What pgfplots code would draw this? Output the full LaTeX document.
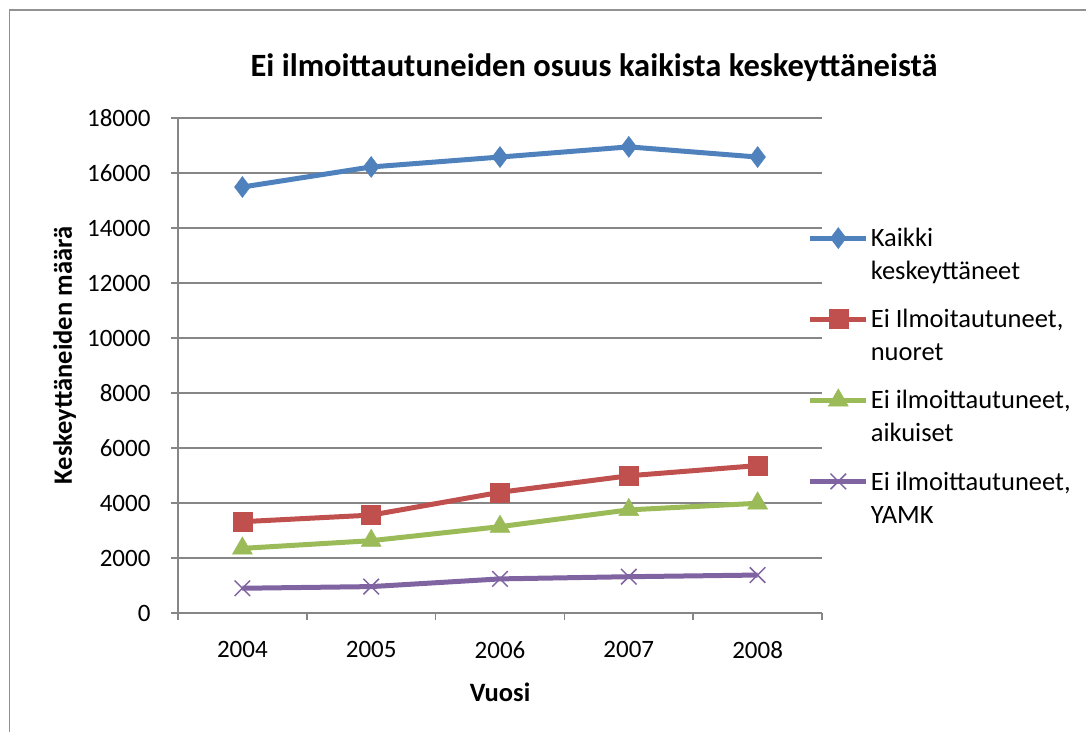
\documentclass[border=0pt]{standalone}
\usepackage{fontspec}
\setmainfont{Carlito}
\usepackage{pgfplots}
\pgfplotsset{compat=1.18}
\definecolor{cblue}{HTML}{4F81BD}
\definecolor{cred}{HTML}{C0504D}
\definecolor{cgreen}{HTML}{9BBB59}
\definecolor{cpurple}{HTML}{8064A2}
\definecolor{gridgray}{HTML}{868686}
\begin{document}
\begin{tikzpicture}
\useasboundingbox (0pt,0pt) rectangle (1086pt,731pt);
\draw[color=gridgray!90, line width=1.5pt] (9.5pt,-5pt) -- (9.5pt,721pt) -- (1095pt,721pt);
\node[font=\fontsize{32.5}{36}\selectfont\bfseries] at (594pt,663pt) {Ei ilmoittautuneiden osuus kaikista keskeyttäneistä};
\begin{axis}[
  at={(178pt,118pt)}, anchor=south west,
  width=644pt, height=495pt, scale only axis,
  xmin=-0.5, xmax=4.5, ymin=0, ymax=18000,
  ytick={0,2000,...,18000},
  ymajorgrids,
  grid style={color=gridgray, line width=1.5pt},
  axis x line*=bottom, axis y line*=left,
  axis line style={gridgray, line width=1.5pt, -},
  tick align=outside, major tick length=7pt,
  tick style={gridgray, line width=1.5pt},
  xtick={-0.5,0.5,1.5,2.5,3.5,4.5},
  xticklabels={},
  extra x ticks={0,1,2,3,4},
  extra x tick labels={2004,2005,2006,2007,2008},
  extra x tick style={major tick length=0pt, grid=none},
  xticklabel style={yshift=-25pt},
  yticklabel style={xshift=-17pt},
  ticklabel style={font=\fontsize{25}{29}\selectfont},
  /pgf/number format/assume math mode=true,
  /pgf/number format/1000 sep={},
  scaled y ticks=false,
  xlabel={Vuosi}, ylabel={Keskeyttäneiden määrä},
  label style={font=\fontsize{26.5}{30}\selectfont\bfseries},
  xlabel style={at={(axis description cs:0.5,-0.16)}, anchor=center},
  ylabel style={at={(axis description cs:-0.176,0.52)}, anchor=center},
  legend cell align=left,
  legend style={draw=none, fill=none, at={(axis description cs:0.973,0.786)}, anchor=north west,
    font=\fontsize{26.5}{33}\selectfont, nodes={align=left, inner sep=2pt}, row sep=24pt,
    cells={anchor=north west}},
  legend image code/.code={\draw[#1, mark repeat=2, mark phase=2] plot coordinates {(0pt,-12pt) (28pt,-12pt) (56pt,-12pt)};},
  clip=false,
]
\addplot[cblue, line width=5pt, mark=diamond*, mark size=10.5pt, mark options={solid, line width=0.5pt}]
  coordinates {(0,15490) (1,16220) (2,16580) (3,16950) (4,16580)};
\addlegendentry{Kaikki\\keskeyttäneet}
\addplot[cred, line width=5pt, mark=square*, mark size=9.5pt, mark options={solid, line width=0.5pt}]
  coordinates {(0,3320) (1,3560) (2,4390) (3,4990) (4,5360)};
\addlegendentry{Ei Ilmoitautuneet,\\nuoret}
\addplot[cgreen, line width=5pt, mark=triangle*, mark size=11.5pt, mark options={solid, line width=0.5pt}]
  coordinates {(0,2350) (1,2630) (2,3140) (3,3750) (4,3990)};
\addlegendentry{Ei ilmoittautuneet,\\aikuiset}
\addplot[cpurple, line width=5pt, mark=x, mark size=11pt, mark options={solid, line width=1.5pt}]
  coordinates {(0,900) (1,960) (2,1240) (3,1320) (4,1380)};
\addlegendentry{Ei ilmoittautuneet,\\YAMK}
\end{axis}
\end{tikzpicture}
\end{document}
